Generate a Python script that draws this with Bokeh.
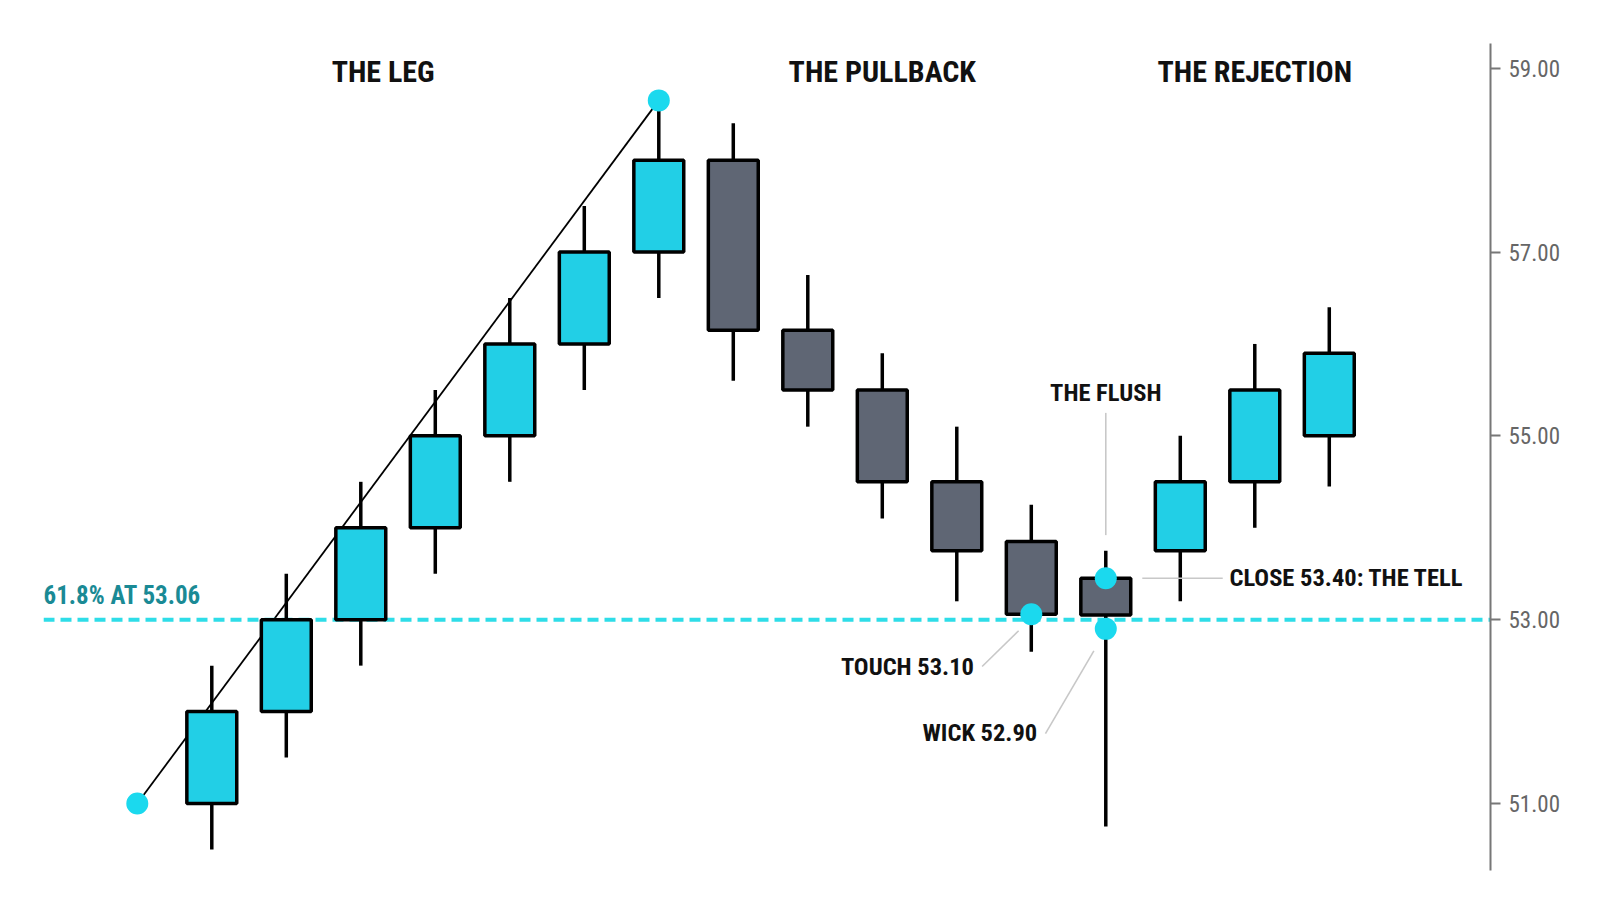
from bokeh.plotting import figure
from bokeh.models import FixedTicker, NumeralTickFormatter, Range1d
from bokeh.core.properties import value
from bokeh.embed import file_html
from bokeh.resources import INLINE

# ---- data ----
idx = list(range(1, 17))
opens = [51.0, 52.0, 53.0, 54.0, 55.0, 56.0, 57.0, 58.0, 56.15, 55.5, 54.5, 53.85, 53.05, 53.75, 54.5, 55.0]
closes = [52.0, 53.0, 54.0, 55.0, 56.0, 57.0, 58.0, 56.15, 55.5, 54.5, 53.75, 53.06, 53.45, 54.5, 55.5, 55.9]
highs = [52.5, 53.5, 54.5, 55.5, 56.5, 57.5, 58.65, 58.4, 56.75, 55.9, 55.1, 54.25, 53.75, 55.0, 56.0, 56.4]
lows = [50.5, 51.5, 52.5, 53.5, 54.5, 55.5, 56.5, 55.6, 55.1, 54.1, 53.2, 52.65, 50.75, 53.2, 54.0, 54.45]
phase = ["leg"] * 7 + ["pullback"] * 6 + ["rejection"] * 3

leg_x = [0, 7]
leg_y = [51.0, 58.65]
fib_level = 53.0
fib_label = "61.8% AT 53.06"

dot_x = [0, 7, 12, 13, 13]
dot_y = [51.0, 58.65, 53.06, 53.45, 52.9]

titles = ["THE LEG", "THE PULLBACK", "THE REJECTION"]
title_x = [3.3, 10.0, 15.0]
title_y = 58.83

y_ticks = [51, 53, 55, 57, 59]

CYAN = "#22CFE6"
GRAY = "#5F6674"
DOT = "#1BD9EE"
DASH = "#2EDDE8"
TEAL = "#1A8A95"
FONT = "Roboto Condensed, Roboto"

colors = [GRAY if ph == "pullback" else CYAN for ph in phase]
tops = [max(o, c) for o, c in zip(opens, closes)]
bots = [min(o, c) for o, c in zip(opens, closes)]

X0, X1 = -1.259, 18.164
p = figure(width=1584, height=898, output_backend="svg", toolbar_location=None,
           x_axis_location=None, y_axis_location="right",
           x_range=Range1d(X0, X1), y_range=Range1d(50.271, 59.269),
           min_border_left=43, min_border_top=43, min_border_right=94, min_border_bottom=28)
p.grid.visible = False
p.outline_line_color = None
p.background_fill_color = "white"
p.border_fill_color = "white"

ax = p.yaxis[0]
ax.ticker = FixedTicker(ticks=y_ticks)
ax.formatter = NumeralTickFormatter(format="0.00")
ax.axis_line_color = "#777777"
ax.axis_line_width = 2
ax.major_tick_line_color = "#777777"
ax.major_tick_line_width = 2
ax.major_tick_out = 10
ax.major_tick_in = 0
ax.minor_tick_line_color = None
ax.major_label_text_font = FONT
ax.major_label_text_font_size = "23px"
ax.major_label_text_color = "#666666"
ax.major_label_standoff = 8

# leg line (behind candles)
p.line(leg_x, leg_y, line_color="black", line_width=1.8)
# fib dashed line
p.line([X0, X1], [fib_level, fib_level], line_color=DASH, line_width=4, line_dash="11 6")

# wicks + bodies
p.segment(x0=idx, y0=lows, x1=idx, y1=highs, line_color="black", line_width=3.5)
p.vbar(x=idx, width=0.67, top=tops, bottom=bots, fill_color=colors,
       line_color="black", line_width=3.5)

# leader lines
LEAD = "#C8C8C8"
p.segment(x0=[13, 13.49, 11.34, 12.19], y0=[55.25, 53.45, 52.49, 51.76],
          x1=[13, 14.57, 11.83, 12.84], y1=[53.92, 53.45, 52.88, 52.66],
          line_color=LEAD, line_width=1.6)

# dots
p.scatter(dot_x, dot_y, size=22, fill_color=DOT, line_color=None)

# titles
p.text(x=title_x, y=[title_y] * 3, text=titles, text_font=value(FONT), text_font_style="bold",
       text_font_size="30px", text_align="center", text_baseline="alphabetic",
       text_color="#111111", y_offset=-12)

# annotations
ann = dict(text_font=value(FONT), text_font_style="bold", text_font_size="24.5px",
           text_baseline="alphabetic", text_color="#111111", y_offset=-10)
p.text(x=[13], y=[55.362], text=["THE FLUSH"], text_align="center", **ann)
p.text(x=[14.66], y=[53.35], text=["CLOSE 53.40: THE TELL"], text_align="left", **ann)
p.text(x=[11.23, 12.08], y=[52.38, 51.66], text=["TOUCH 53.10", "WICK 52.90"],
       text_align="right", **ann)
p.text(x=[X0], y=[53.153], text=[fib_label], text_font=value(FONT), text_font_style="bold",
       text_font_size="25px", text_align="left", text_baseline="alphabetic",
       text_color=TEAL, y_offset=-10)

open("out.html", "w").write(file_html(p, INLINE))
